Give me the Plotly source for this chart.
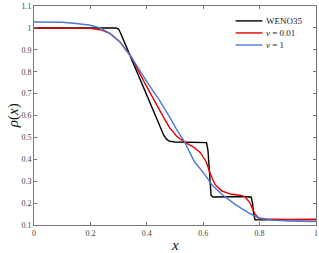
import plotly.graph_objects as go

# WENO35 reference solution
weno_x = [0, 0.29, 0.30, 0.31, 0.35, 0.40, 0.44, 0.45, 0.46, 0.47, 0.48, 0.50, 0.55, 0.60,
          0.612, 0.617, 0.622, 0.628, 0.635, 0.65, 0.70, 0.75, 0.770, 0.775, 0.779, 0.784,
          0.790, 0.85, 0.9, 1.0]
weno_y = [1.0, 1.0, 0.995, 0.968, 0.845, 0.69, 0.566, 0.538, 0.51, 0.492, 0.483, 0.479, 0.479, 0.479,
          0.476, 0.44, 0.33, 0.236, 0.228, 0.229, 0.229, 0.229, 0.228, 0.20, 0.15, 0.123,
          0.123, 0.125, 0.125, 0.125]

# nu = 0.01
red_x = [0, 0.1, 0.2, 0.24, 0.27, 0.305, 0.346, 0.39, 0.435, 0.46, 0.482, 0.506, 0.535, 0.565,
         0.59, 0.61, 0.625, 0.642, 0.666, 0.70, 0.73, 0.748, 0.766, 0.784, 0.80, 0.85, 0.9, 1.0]
red_y = [1.0, 1.0, 0.998, 0.99, 0.974, 0.936, 0.865, 0.755, 0.645, 0.59, 0.542, 0.505, 0.477, 0.457,
         0.43, 0.39, 0.335, 0.285, 0.255, 0.24, 0.236, 0.23, 0.20, 0.149, 0.128, 0.125, 0.125, 0.125]

# nu = 1
blue_x = [0, 0.05, 0.1, 0.15, 0.2, 0.234, 0.27, 0.305, 0.346, 0.40, 0.444, 0.482, 0.49, 0.497,
          0.505, 0.535, 0.568, 0.606, 0.63, 0.666, 0.713, 0.76, 0.795, 0.85, 0.9, 1.0]
blue_y = [1.027, 1.028, 1.026, 1.02, 1.012, 1.0, 0.974, 0.936, 0.865, 0.755, 0.671, 0.59, 0.57, 0.552,
          0.538, 0.477, 0.391, 0.33, 0.285, 0.24, 0.194, 0.156, 0.133, 0.122, 0.118, 0.115]

series_names = ["WENO35", "<i>ν</i> = 0.01", "<i>ν</i> = 1"]
series_colors = ["#000000", "#e80000", "#4a78d8"]

x_ticks = [0, 0.2, 0.4, 0.6, 0.8, 1.0]
x_tick_text = ["0", "0.2", "0.4", "0.6", "0.8", "1"]
y_ticks = [0.1, 0.2, 0.3, 0.4, 0.5, 0.6, 0.7, 0.8, 0.9, 1.0, 1.1]
y_tick_text = ["0.1", "0.2", "0.3", "0.4", "0.5", "0.6", "0.7", "0.8", "0.9", "1", "1.1"]

SERIF = "Liberation Serif, DejaVu Serif, serif"

fig = go.Figure()
for xs, ys, nm, col in zip([weno_x, red_x, blue_x], [weno_y, red_y, blue_y], series_names, series_colors):
    fig.add_trace(go.Scatter(x=xs, y=ys, mode="lines", name=nm,
                             line=dict(color=col, width=1.4), showlegend=False,
                             hoverinfo="skip"))

# compact legend (top right, inside the axes)
leg_top = 0.932
leg_step = 0.055
for i, (nm, col) in enumerate(zip(series_names, series_colors)):
    yy = leg_top - i * leg_step
    fig.add_shape(type="line", xref="paper", yref="paper", x0=0.715, x1=0.81, y0=yy, y1=yy,
                  line=dict(color=col, width=1.4))
    fig.add_annotation(xref="paper", yref="paper", x=0.815, y=yy, text=nm, showarrow=False,
                       xanchor="left", yanchor="middle",
                       font=dict(family=SERIF, size=9, color="#222222"))

axis_common = dict(showgrid=False, zeroline=False, showline=True, linecolor="#777777",
                   linewidth=1, mirror="ticks", ticks="inside", ticklen=3, tickcolor="#777777",
                   automargin=False, ticklabeloverflow="allow",
                   tickfont=dict(family=SERIF, size=8, color="#444444"))

fig.update_layout(
    width=319, height=253,
    margin=dict(l=34, r=3, t=6, b=28, autoexpand=False),
    paper_bgcolor="white", plot_bgcolor="white",
    showlegend=False,
    xaxis=dict(range=[-0.0002, 1.0002], tickvals=x_ticks, ticktext=x_tick_text, **axis_common),
    yaxis=dict(range=[0.0998, 1.1002], tickvals=y_ticks, ticktext=y_tick_text, **axis_common),
)

fig.add_annotation(xref="paper", yref="paper", x=0.5, y=-0.09, yanchor="middle",
                   text="<i>x</i>", showarrow=False,
                   font=dict(family=SERIF, size=15, color="#111111"))
fig.add_annotation(xref="paper", yref="paper", x=-0.072, y=0.5, xanchor="center",
                   text="<i>ρ</i>(<i>x</i>)", showarrow=False, textangle=-90,
                   font=dict(family=SERIF, size=15, color="#111111"))

fig.write_html("out.html", config={"displayModeBar": False, "staticPlot": True},
               post_script="document.body.style.margin='0';")
